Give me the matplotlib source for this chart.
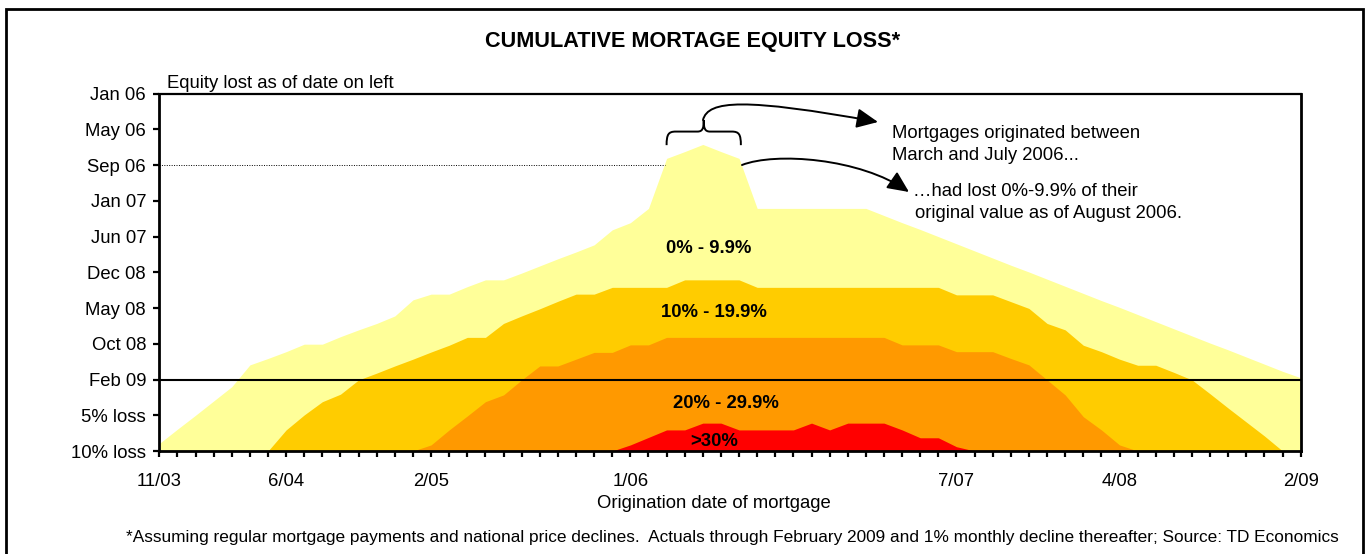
import matplotlib
matplotlib.use("Agg")
import matplotlib.pyplot as plt
import numpy as np
from matplotlib.patches import FancyArrowPatch, PathPatch, Rectangle
from matplotlib.path import Path

# Data (monthly from 11/03 to 2/09)
months = np.arange(64)

band_0_10 = [0.21, 0.61, 1.0, 1.4, 1.8, 2.41, 2.59, 2.78, 2.99, 2.99,
             3.2, 3.39, 3.57, 3.78, 4.23, 4.39, 4.39, 4.6, 4.79, 4.79,
             4.98, 5.18, 5.38, 5.57, 5.77, 6.19, 6.39, 6.79, 8.19, 8.38,
             8.58, 8.38, 8.19, 6.79, 6.79, 6.79, 6.79, 6.79, 6.79, 6.79,
             6.59, 6.39, 6.2, 6.0, 5.8, 5.6, 5.4, 5.2, 5.01, 4.81,
             4.61, 4.41, 4.21, 4.02, 3.82, 3.62, 3.42, 3.22, 3.02, 2.83,
             2.63, 2.43, 2.23, 2.05]

band_10_20 = [0, 0, 0, 0, 0, 0, 0, 0.59, 1.01, 1.38,
              1.59, 1.99, 2.18, 2.38, 2.57, 2.77, 2.96, 3.18, 3.18, 3.57,
              3.78, 3.98, 4.19, 4.39, 4.39, 4.58, 4.58, 4.58, 4.58, 4.79,
              4.79, 4.79, 4.79, 4.58, 4.58, 4.58, 4.58, 4.58, 4.58, 4.58,
              4.58, 4.58, 4.58, 4.58, 4.37, 4.37, 4.37, 4.18, 3.99, 3.57,
              3.39, 2.96, 2.78, 2.57, 2.4, 2.4, 2.2, 1.99, 1.6, 1.2,
              0.81, 0.42, 0, 0]

band_20_30 = [0, 0, 0, 0, 0, 0, 0, 0, 0, 0,
              0, 0, 0, 0, 0, 0.17, 0.59, 0.98, 1.38, 1.57,
              1.99, 2.38, 2.38, 2.57, 2.76, 2.76, 2.97, 2.97, 3.18, 3.18,
              3.18, 3.18, 3.18, 3.18, 3.18, 3.18, 3.18, 3.18, 3.18, 3.18,
              3.18, 2.97, 2.97, 2.97, 2.78, 2.78, 2.78, 2.59, 2.41, 1.99,
              1.57, 0.96, 0.59, 0.17, 0, 0, 0, 0, 0, 0,
              0, 0, 0, 0]

band_30 = [0, 0, 0, 0, 0, 0, 0, 0, 0, 0,
           0, 0, 0, 0, 0, 0, 0, 0, 0, 0,
           0, 0, 0, 0, 0, 0, 0.17, 0.38, 0.59, 0.59,
           0.78, 0.78, 0.59, 0.59, 0.59, 0.59, 0.78, 0.59, 0.78, 0.78,
           0.78, 0.59, 0.37, 0.37, 0.12, 0, 0, 0, 0, 0,
           0, 0, 0, 0, 0, 0, 0, 0, 0, 0,
           0, 0, 0, 0]

band_labels = ["0% - 9.9%", "10% - 19.9%", "20% - 29.9%", ">30%"]
band_colors = ["#FFFF99", "#FFCC00", "#FF9900", "#FF0000"]

y_labels = ["10% loss", "5% loss", "Feb 09", "Oct 08", "May 08", "Dec 08",
            "Jun 07", "Jan 07", "Sep 06", "May 06", "Jan 06"]
x_label_pos = [0, 7, 15, 26, 44, 53, 63]
x_label_txt = ["11/03", "6/04", "2/05", "1/06", "7/07", "4/08", "2/09"]

W, H = 1365, 554
FS = 13.3
plt.rcParams["font.family"] = ["Liberation Sans", "DejaVu Sans"]

# plot box in pixels
AX_L, AX_R, AX_T, AX_B = 159.3, 1300.7, 93.7, 451.0


def fx(px):
    return px / W


def fy(py):
    return 1 - py / H


def dx(px):
    # pixel x -> month index
    return (px - AX_L) / (AX_R - AX_L) * 63


def dy(py):
    # pixel y -> row index
    return (AX_B - py) / (AX_B - AX_T) * 10


fig = plt.figure(figsize=(W / 100, H / 100), dpi=100)
ax = fig.add_axes([fx(AX_L), fy(AX_B), (AX_R - AX_L) / W, (AX_B - AX_T) / H])

for vals, col in zip([band_0_10, band_10_20, band_20_30, band_30], band_colors):
    ax.fill_between(months, 0, vals, color=col, lw=0, zorder=1)

ax.set_xlim(0, 63)
ax.set_ylim(0, 10)

# reference lines
ax.axhline(2, color="black", lw=1.5, zorder=3)
ax.plot([0, 27.9], [8, 8], color="black", lw=0.7, ls=(0, (1, 1.5)), zorder=3)

# ticks
ax.set_yticks(range(11))
ax.set_yticklabels(y_labels, fontsize=FS)
ax.set_xticks(months)
ax.set_xticklabels([x_label_txt[x_label_pos.index(m)] if m in x_label_pos else "" for m in months],
                   fontsize=FS)
ax.tick_params(axis="y", direction="out", length=4.5, width=1.6, pad=5)
ax.tick_params(axis="x", direction="out", length=4.5, width=1.6, pad=11)
for s in ["left", "bottom", "right"]:
    ax.spines[s].set_linewidth(2.0)
ax.spines["top"].set_linewidth(1.6)

# band labels
label_px = [(709, 253), (714, 316.7), (725.5, 408.3), (714.5, 446)]
for txt, (px, py) in zip(band_labels, label_px):
    ax.text(dx(px), dy(py), txt, ha="center", va="baseline", fontsize=FS,
            fontweight="bold", zorder=4)

# brace over Mar-Jul 2006
xl, xr, xm = 28.0, 32.1, 30.05
yb, ymid, yt = 8.56, 8.94, 9.26
brace_verts = [(xl, yb), (xl, yb + 0.3), (xl + 0.1, ymid), (xl + 0.5, ymid),
               (xm - 0.35, ymid),
               (xm - 0.05, ymid), (xm, ymid + 0.1), (xm, yt),
               (xm, yt),
               (xm, ymid + 0.1), (xm + 0.05, ymid), (xm + 0.35, ymid),
               (xr - 0.5, ymid),
               (xr - 0.1, ymid), (xr, yb + 0.3), (xr, yb)]
brace_codes = [Path.MOVETO, Path.CURVE4, Path.CURVE4, Path.CURVE4,
               Path.LINETO,
               Path.CURVE4, Path.CURVE4, Path.CURVE4,
               Path.MOVETO,
               Path.CURVE4, Path.CURVE4, Path.CURVE4,
               Path.LINETO,
               Path.CURVE4, Path.CURVE4, Path.CURVE4]
ax.add_patch(PathPatch(Path(brace_verts, brace_codes), fill=False, lw=1.4,
                       color="black", zorder=5, clip_on=False))

# curved arrows
arrow_style = "-|>,head_length=0.65,head_width=0.3"
arr1 = [(703, 120), (708, 100), (745, 98), (878, 122)]
arr2 = [(742, 165), (775, 152), (860, 158), (909, 192)]
for pts in [arr1, arr2]:
    p = Path([(dx(a), dy(b)) for a, b in pts],
             [Path.MOVETO, Path.CURVE4, Path.CURVE4, Path.CURVE4])
    ax.add_patch(FancyArrowPatch(path=p, arrowstyle=arrow_style, mutation_scale=20,
                                 lw=1.4, color="black", zorder=5))

# texts
fig.text(fx(693), fy(47), "CUMULATIVE MORTAGE EQUITY LOSS*", ha="center", va="baseline",
         fontsize=15.6, fontweight="bold")
fig.text(fx(167), fy(88), "Equity lost as of date on left", ha="left", va="baseline",
         fontsize=FS)
fig.text(fx(892), fy(138), "Mortgages originated between", ha="left", va="baseline",
         fontsize=FS)
fig.text(fx(892), fy(160), "March and July 2006...", ha="left", va="baseline", fontsize=FS)
fig.text(fx(913), fy(196), "\u2026had lost 0%-9.9% of their", ha="left", va="baseline",
         fontsize=FS)
fig.text(fx(915), fy(217.5), "original value as of August 2006.", ha="left", va="baseline",
         fontsize=FS)
fig.text(fx(713.5), fy(508), "Origination date of mortgage", ha="center", va="baseline",
         fontsize=FS)
fig.text(fx(732), fy(542),
         "*Assuming regular mortgage payments and national price declines.  "
         "Actuals through February 2009 and 1% monthly decline thereafter; Source: TD Economics",
         ha="center", va="baseline", fontsize=12.4)

# outer frame
fig.patches.append(Rectangle((fx(6), -0.1), fx(1363) - fx(6), fy(9.3) + 0.1,
                             transform=fig.transFigure, fill=False, lw=2.0,
                             edgecolor="black", clip_on=False))

fig.savefig("out.png", dpi=100)
